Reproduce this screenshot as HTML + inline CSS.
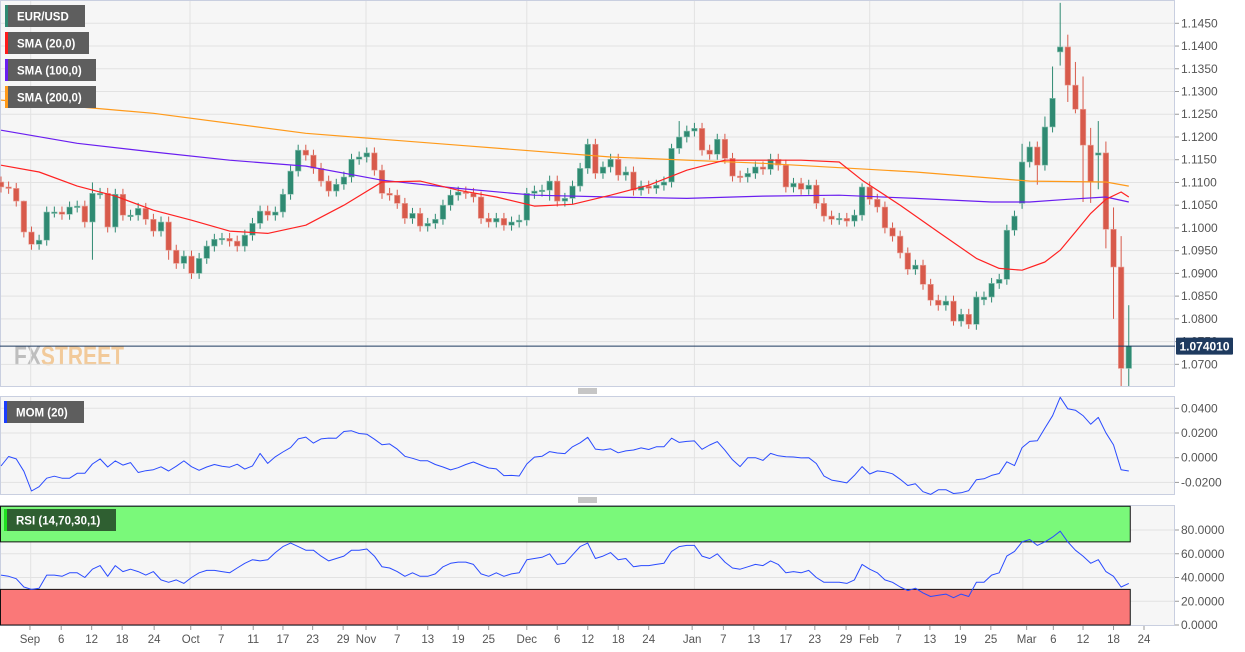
<!DOCTYPE html>
<html><head><meta charset="utf-8"><style>
html,body{margin:0;padding:0;background:#fff;}
svg{display:block;font-family:"Liberation Sans",sans-serif;}
</style></head><body>
<svg id="chart" width="1245" height="652" viewBox="0 0 1245 652" xmlns="http://www.w3.org/2000/svg">
<defs><clipPath id="pc"><rect x="0" y="0" width="1175" height="386"/></clipPath></defs>
<g id="bg"></g><g id="grid"></g><g id="bands"></g><g id="marks" clip-path="url(#pc)"></g><g id="marks2"></g><g id="axes"></g><g id="legend"></g>
</svg>
<script>
const closes = [1.1090,1.1087,1.1059,1.0991,1.0964,1.0973,1.1035,1.1035,1.1030,1.1046,1.1048,1.1013,1.1076,1.1076,1.1002,1.1074,1.1028,1.1028,1.1043,1.1019,
1.0993,1.1013,1.0951,1.0922,1.0938,1.0900,1.0933,1.0960,1.0975,1.0977,1.0971,1.0960,1.0984,1.1010,1.1037,1.1028,1.1035,1.1074,1.1125,1.1171,
1.1160,1.1131,1.1103,1.1081,1.1096,1.1112,1.1151,1.1156,1.1165,1.1127,1.1076,1.1072,1.1054,1.1021,1.1032,1.1004,1.1010,1.1019,1.1050,1.1072,
1.1079,1.1076,1.1068,1.1021,1.1013,1.1021,1.1006,1.1013,1.1017,1.1076,1.1081,1.1083,1.1103,1.1059,1.1065,1.1092,1.1131,1.1184,1.1120,1.1134,
1.1151,1.1116,1.1123,1.1083,1.1092,1.1087,1.1094,1.1101,1.1175,1.1200,1.1213,1.1219,1.1171,1.1162,1.1195,1.1153,1.1114,1.1112,1.1120,1.1134,
1.1129,1.1151,1.1138,1.1090,1.1098,1.1085,1.1094,1.1054,1.1026,1.1019,1.1021,1.1015,1.1028,1.1090,1.1063,1.1046,1.1000,1.0982,1.0945,1.0909,
1.0918,1.0876,1.0841,1.0830,1.0839,1.0795,1.0810,1.0788,1.0848,1.0848,1.0878,1.0887,1.0995,1.1026,1.1145,1.1178,1.1138,1.1222,1.1285,1.1398,
1.1314,1.1261,1.1182,1.1101,1.1165,1.0997,1.0914,1.0691,1.0740];
const firstOpen = 1.1101;
const openOverrides = {139:1.1387, 134:1.1054, 129:1.0842, 144:1.1160};
const highOverrides = {139:1.1495, 140:1.1425, 141:1.1365, 142:1.1333, 143:1.1220, 144:1.1235, 145:1.1190, 146:1.1045, 147:1.0982, 148:1.0830, 137:1.1245, 138:1.1355, 134:1.1185, 3:1.1060, 12:1.1100, 113:1.1098, 88:1.1185, 89:1.1235};
const lowOverrides = {139:1.1357, 140:1.1277, 141:1.1252, 142:1.1057, 143:1.1055, 144:1.1085, 145:1.0955, 146:1.0800, 147:1.0640, 148:1.0640, 136:1.1095, 12:1.0930, 22:1.0930, 72:1.1060, 125:1.0785, 127:1.0778};
const sma20Idx = [0,5,10,15,20,25,30,35,40,45,50,55,60,65,70,75,80,85,90,95,100,105,110,113,118,123,128,131,134,137,139,141,143,145,147,148];
const sma20Val = [1.1138,1.1123,1.1092,1.1070,1.1039,1.1017,1.0993,1.0988,1.1006,1.1050,1.1101,1.1103,1.1083,1.1068,1.1048,1.1052,1.1072,1.1094,1.1127,1.1149,1.1149,1.1149,1.1145,1.1105,1.1050,1.0991,1.0933,1.0911,1.0907,1.0925,1.0951,1.0991,1.1032,1.1063,1.1079,1.1068];
const sma100Idx = [0,10,20,30,40,50,60,70,80,90,100,110,120,130,135,140,145,148];
const sma100Val = [1.1215,1.1186,1.1167,1.1149,1.1136,1.1105,1.1087,1.1072,1.1068,1.1065,1.1070,1.1072,1.1065,1.1057,1.1057,1.1063,1.1068,1.1057];
const sma200Idx = [0,20,40,60,80,100,120,135,145,148];
const sma200Val = [1.1281,1.1252,1.1208,1.1182,1.1156,1.1142,1.1123,1.1103,1.1101,1.1092];
const momHead = [-0.0067,0.0010,-0.0010,-0.0110,-0.0270,-0.0235,-0.0166,-0.0150,-0.0166,-0.0166,-0.0126,-0.0126,-0.0051,-0.0010,-0.0075,-0.0026,-0.0060,-0.0040,-0.0120,-0.0105];
const rsi = [42,41,39,32,30,31,42,42,41,44,44,40,47,50,41,50,45,47,45,42,
45,38,36,38,35,40,44,46,46,45,44,48,52,55,54,55,61,66,69,66,
63,63,58,54,56,58,63,63,64,58,49,48,45,41,44,41,41,43,49,52,
53,53,51,43,41,44,41,43,44,55,56,57,60,51,52,59,66,69,56,58,
61,55,56,49,50,50,51,52,62,66,67,67,58,56,60,53,48,47,49,51,
50,54,51,44,45,44,46,40,36,36,36,35,38,51,47,44,38,36,32,29,
31,27,24,25,26,23,26,24,36,36,42,44,58,62,70,72,67,70,74,79,
70,63,58,52,55,45,41,32,35];
const priceTicks = [1.0700,1.0750,1.0800,1.0850,1.0900,1.0950,1.1000,1.1050,1.1100,1.1150,1.1200,1.1250,1.1300,1.1350,1.1400,1.1450];
const momTicks = [0.04,0.02,0,-0.02];
const rsiTicks = [0,20,40,60,80];
const xLabels = ["Sep","6","12","18","24","Oct","7","11","17","23","29","Nov","7","13","19","25","Dec","6","12","18","24","Jan","7","13","17","23","29","Feb","7","13","19","25","Mar","6","12","18","24"];
const xLabelIdx = [3.8,7.9,11.9,15.9,20.1,24.9,28.9,33.1,37,40.9,44.9,47.9,52,56,60,64,69,73,77,81,85,90.7,94.8,98.8,103,106.8,110.9,113.9,117.8,121.9,125.9,129.9,134.6,138.1,142,146,150];
const monthLineIdx = [3.9,24.8,47.9,69,91,114,134.1];
const lastPrice = 1.074010;

const NS="http://www.w3.org/2000/svg";
function mk(tag, attrs, parent){const e=document.createElementNS(NS,tag);for(const k in attrs)e.setAttribute(k,attrs[k]);parent.appendChild(e);return e;}
const X = i => 1 + 7.62*i;
const Y = p => 23.3 + (1.1450 - p)*4547;
const YM = v => 457.7 - v*1235;
const YR = v => 625 - v*1.1875;
const bg=document.getElementById('bg'), grid=document.getElementById('grid'), bands=document.getElementById('bands'), marks=document.getElementById('marks'), marks2=document.getElementById('marks2'), axes=document.getElementById('axes'), legend=document.getElementById('legend');

let r;
r=mk('rect',{x:0.5,y:0.5,width:1174,height:386,fill:'#f6f6f6',stroke:'#c9cfe0'},bg);


r=mk('rect',{x:0.5,y:396.5,width:1174,height:98,fill:'#f6f6f6',stroke:'#c9cfe0'},bg);


r=mk('rect',{x:0.5,y:505.5,width:1174,height:120,fill:'#f6f6f6',stroke:'#c9cfe0'},bg);


[391,500].forEach(yy=>{for(let k=0;k<3;k++){const l=mk('line',{x1:578,x2:597,y1:yy-2+k*2,y2:yy-2+k*2,stroke:'#666','stroke-width':0.8},bg);

}});

priceTicks.forEach(p=>{mk('line',{x1:1,x2:1174,y1:Y(p),y2:Y(p),stroke:'#e2e2e2'},grid);});
momTicks.forEach(v=>{mk('line',{x1:1,x2:1174,y1:YM(v),y2:YM(v),stroke:'#e2e2e2'},grid);});
rsiTicks.forEach(v=>{if(v>0)mk('line',{x1:1,x2:1174,y1:YR(v),y2:YR(v),stroke:'#e2e2e2'},grid);});
monthLineIdx.forEach(i=>{[[1,386],[397,494],[506,625]].forEach(s=>mk('line',{x1:X(i),x2:X(i),y1:s[0],y2:s[1],stroke:'#e2e2e2'},grid));});

r=mk('rect',{x:0.5,y:YR(100),width:X(148)+1,height:YR(70)-YR(100),fill:'#7af97a',stroke:'#111','stroke-width':1},bands);


r=mk('rect',{x:0.5,y:YR(30),width:X(148)+1,height:YR(0)-YR(30),fill:'#fa7878',stroke:'#111','stroke-width':1},bands);



const wm=mk('text',{x:14,y:365,'font-size':27,'font-weight':'bold',opacity:0.5,textLength:110,lengthAdjust:'spacingAndGlyphs'},bg);


const t1=mk('tspan',{fill:'#888'},wm);t1.textContent='FX';
const t2=mk('tspan',{fill:'#f0a040'},wm);t2.textContent='STREET';

const opens = closes.map((c,i)=> openOverrides[i]!==undefined ? openOverrides[i] : (i===0?firstOpen:closes[i-1]));
closes.forEach((c,i)=>{
  const o=opens[i];
  const up=c>=o;
  const col=up?'#2f8a72':'#d85a4b';
  const hi=highOverrides[i]!==undefined?highOverrides[i]:Math.max(o,c)+0.0012;
  const lo=lowOverrides[i]!==undefined?lowOverrides[i]:Math.min(o,c)-0.0012;
  const g=mk('g',{},marks);
  
  
  mk('line',{x1:X(i),x2:X(i),y1:Y(hi),y2:Y(lo),stroke:col,'stroke-width':1},g);
  const top=Y(Math.max(o,c)), h=Math.max(1.5,Math.abs(Y(o)-Y(c)));
  mk('rect',{x:X(i)-2.8,y:top,width:5.6,height:h,fill:col,stroke:up?'#8fc4b4':'#eaa59c','stroke-width':0.6},g);
});

function poly(idx,vals,fy,col,name,parent,w){
  const pts=idx.map((i,k)=>X(i).toFixed(1)+','+fy(vals[k]).toFixed(1)).join(' ');
  const p=mk('polyline',{points:pts,fill:'none',stroke:col,'stroke-width':w||1.2,'stroke-linejoin':'round'},parent);
  
  
}
poly(sma200Idx,sma200Val,Y,'#ff9a1a','sma-200-line',marks);
poly(sma100Idx,sma100Val,Y,'#6a1ef0','sma-100-line',marks);
poly(sma20Idx,sma20Val,Y,'#ff2222','sma-20-line',marks);

const mom = closes.map((c,i)=> i<20 ? momHead[i] : c - closes[i-20]);
poly(mom.map((v,i)=>i),mom,YM,'#2a4bff','momentum-line',marks2,1);
poly(rsi.map((v,i)=>i),rsi,YR,'#2a4bff','rsi-line',marks2,1);

let ll=mk('line',{x1:0,x2:1175,y1:Y(lastPrice),y2:Y(lastPrice),stroke:'#1e3a5f','stroke-width':1},marks2);



function txt(x,y,s,attrs,name,inter){const t=mk('text',Object.assign({x:x,y:y},attrs),axes);t.textContent=s;

return t;}
priceTicks.forEach(p=>{mk('line',{x1:1175,x2:1179,y1:Y(p),y2:Y(p),stroke:'#999'},axes);
txt(1181,Y(p)+4,p.toFixed(4),{'font-size':12,fill:'#555'},'price-tick-label');});
momTicks.forEach(v=>{mk('line',{x1:1175,x2:1179,y1:YM(v),y2:YM(v),stroke:'#999'},axes);
txt(1181,YM(v)+4,v.toFixed(4),{'font-size':12,fill:'#555'},'momentum-tick-label');});
rsiTicks.forEach(v=>{mk('line',{x1:1175,x2:1179,y1:YR(v),y2:YR(v),stroke:'#999'},axes);
txt(1181,YR(v)+4,v.toFixed(4),{'font-size':12,fill:'#555'},'rsi-tick-label');});
xLabels.forEach((s,k)=>{mk('line',{x1:X(xLabelIdx[k]),x2:X(xLabelIdx[k]),y1:626,y2:630,stroke:'#999'},axes);
txt(X(xLabelIdx[k]),643,s,{'font-size':11.5,fill:'#555','text-anchor':'middle'},'x-axis-date-label');});

const pt=mk('g',{},axes);


mk('rect',{x:1176,y:Y(lastPrice)-8.5,width:57,height:17,fill:'#1e3a5f',rx:1},pt);
const ptt=mk('text',{x:1204.5,y:Y(lastPrice)+4.5,'font-size':12,'font-weight':'bold',fill:'#fff','text-anchor':'middle'},pt);ptt.textContent=lastPrice.toFixed(6);

function leg(x,y,w,bar,label,name,fill){
  const g=mk('g',{},legend);
  
  
  mk('rect',{x:x,y:y,width:w,height:22,fill:fill||'#5e5e5e'},g);
  mk('rect',{x:x,y:y,width:3,height:22,fill:bar},g);
  const t=mk('text',{x:x+12,y:y+15.5,'font-size':11.5,fill:'#fff','font-weight':'bold'},g);t.textContent=label;
}
leg(5,5,80,'#2f8a72','EUR/USD','legend-eurusd');
leg(5,32,84,'#ff1a1a','SMA (20,0)','legend-sma-20');
leg(5,59,91,'#6a1ef0','SMA (100,0)','legend-sma-100');
leg(5,86,91,'#ff9a1a','SMA (200,0)','legend-sma-200');
leg(4,401,80,'#1a3cff','MOM (20)','legend-momentum');
leg(4,509,112,'#20e020','RSI (14,70,30,1)','legend-rsi','#2f5f31');
</script>
</body></html>
